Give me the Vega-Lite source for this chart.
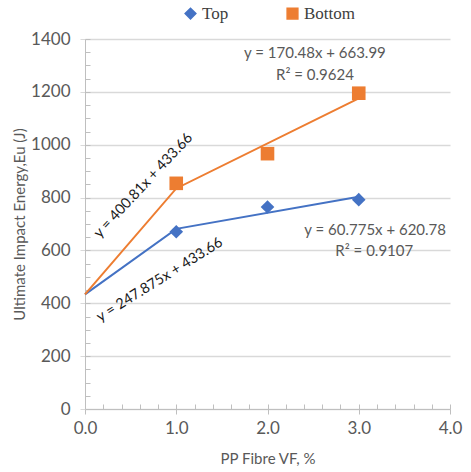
{
  "$schema": "https://vega.github.io/schema/vega-lite/v6.json",
  "autosize": "none",
  "width": 365,
  "height": 370,
  "padding": {"left": 85, "top": 39, "right": 21, "bottom": 63},
  "background": "white",
  "config": {
    "view": {"stroke": null},
    "font": "Lato",
    "axis": {"labelColor": "#595959", "titleColor": "#595959", "labelFont": "Lato", "titleFont": "Lato", "titleFontWeight": "normal", "labelFlush": false, "labelOverlap": false},
    "legend": {"orient": "none", "legendX": 97, "legendY": -34, "direction": "horizontal", "title": null, "labelFont": "Liberation Serif", "labelFontSize": 17, "labelColor": "#404040", "symbolSize": 115, "labelOffset": 3, "columnPadding": 55}
  },
  "datasets": {
    "measured": [
      {"vf": 1, "energy": 670.6, "position": "Top"},
      {"vf": 2, "energy": 764.3, "position": "Top"},
      {"vf": 3, "energy": 792.1, "position": "Top"},
      {"vf": 1, "energy": 853.9, "position": "Bottom"},
      {"vf": 2, "energy": 966.1, "position": "Bottom"},
      {"vf": 3, "energy": 1194.9, "position": "Bottom"}
    ],
    "trend": [
      {"vf": 0, "energy": 433.66, "position": "Top"},
      {"vf": 1, "energy": 681.54, "position": "Top"},
      {"vf": 3, "energy": 803.11, "position": "Top"},
      {"vf": 0, "energy": 433.66, "position": "Bottom"},
      {"vf": 1, "energy": 834.47, "position": "Bottom"},
      {"vf": 3, "energy": 1175.43, "position": "Bottom"}
    ],
    "fits": [
      {"vf": 2.52, "energy": 1347, "label": "y = 170.48x + 663.99"},
      {"vf": 2.52, "energy": 1264, "label": "R² = 0.9624"},
      {"vf": 3.18, "energy": 677, "label": "y = 60.775x + 620.78"},
      {"vf": 3.17, "energy": 599, "label": "R² = 0.9107"}
    ],
    "steepFit": [{"vf": 0.641, "energy": 845, "label": "y = 400.81x + 433.66"}],
    "shallowFit": [{"vf": 0.82, "energy": 488, "label": "y = 247.875x + 433.66"}]
  },
  "resolve": {"axis": {"x": "independent", "y": "independent"}},
  "layer": [
    {
      "data": {"name": "trend"},
      "mark": {"type": "line", "strokeWidth": 2},
      "encoding": {
        "x": {
          "field": "vf", "type": "quantitative",
          "scale": {"domain": [0, 4], "nice": false},
          "axis": {
            "orient": "bottom", "values": [0, 1, 2, 3, 4], "format": ".1f",
            "title": "PP Fibre VF, %", "titleFontSize": 15, "titlePadding": 15,
            "labelFontSize": 17, "labelPadding": 6, "tickSize": 5,
            "tickColor": "#bfbfbf", "domainColor": "#bfbfbf", "grid": false
          }
        },
        "y": {
          "field": "energy", "type": "quantitative",
          "scale": {"domain": [0, 1400], "nice": false},
          "axis": {
            "orient": "left", "values": [0, 200, 400, 600, 800, 1000, 1200, 1400], "format": "d",
            "title": "Ultimate Impact Energy,Eu (J)", "titleFontSize": 15, "titlePadding": 3,
            "labelFontSize": 17, "labelPadding": 10, "tickSize": 5,
            "tickColor": "#d9d9d9", "domainColor": "#bfbfbf",
            "grid": true, "gridColor": "#d9d9d9", "gridWidth": 1.5
          }
        },
        "color": {
          "field": "position", "type": "nominal",
          "scale": {"domain": ["Top", "Bottom"], "range": ["#4472C4", "#ED7D31"]}
        }
      }
    },
    {
      "data": {"name": "measured"},
      "mark": {"type": "point", "filled": true, "opacity": 1, "size": 185},
      "encoding": {
        "x": {"field": "vf", "type": "quantitative", "axis": null},
        "y": {"field": "energy", "type": "quantitative", "axis": null},
        "color": {
          "field": "position", "type": "nominal",
          "scale": {"domain": ["Top", "Bottom"], "range": ["#4472C4", "#ED7D31"]}
        },
        "shape": {
          "field": "position", "type": "nominal",
          "scale": {"domain": ["Top", "Bottom"], "range": ["diamond", "square"]}
        }
      }
    },
    {
      "data": {"name": "fits"},
      "mark": {"type": "text", "fontSize": 15, "color": "#595959", "font": "Lato"},
      "encoding": {
        "x": {"field": "vf", "type": "quantitative", "axis": null},
        "y": {"field": "energy", "type": "quantitative", "axis": null},
        "text": {"field": "label"}
      }
    },
    {
      "data": {"name": "steepFit"},
      "mark": {"type": "text", "fontSize": 14.5, "color": "#1a1a1a", "font": "Lato", "angle": -47},
      "encoding": {
        "x": {"field": "vf", "type": "quantitative", "axis": null},
        "y": {"field": "energy", "type": "quantitative", "axis": null},
        "text": {"field": "label"}
      }
    },
    {
      "data": {"name": "shallowFit"},
      "mark": {"type": "text", "fontSize": 14.5, "color": "#1a1a1a", "font": "Lato", "angle": -32},
      "encoding": {
        "x": {"field": "vf", "type": "quantitative", "axis": null},
        "y": {"field": "energy", "type": "quantitative", "axis": null},
        "text": {"field": "label"}
      }
    },
    {
      "data": {"name": "measured"},
      "mark": {"type": "point", "opacity": 0},
      "encoding": {
        "x": {
          "field": "vf", "type": "quantitative",
          "axis": {
            "orient": "bottom", "values": [0, 0.2, 0.4, 0.6, 0.8, 1, 1.2, 1.4, 1.6, 1.8, 2, 2.2, 2.4, 2.6, 2.8, 3, 3.2, 3.4, 3.6, 3.8, 4],
            "labels": false, "title": null, "domain": false, "grid": false,
            "tickSize": -5, "tickColor": "#bfbfbf"
          }
        },
        "y": {
          "field": "energy", "type": "quantitative",
          "axis": {
            "orient": "left", "values": [50, 100, 150, 200, 250, 300, 350, 400, 450, 500, 550, 600, 650, 700, 750, 800, 850, 900, 950, 1000, 1050, 1100, 1150, 1200, 1250, 1300, 1350, 1400],
            "labels": false, "title": null, "domain": false, "grid": false,
            "tickSize": -5, "tickColor": "#bfbfbf"
          }
        }
      }
    }
  ]
}
